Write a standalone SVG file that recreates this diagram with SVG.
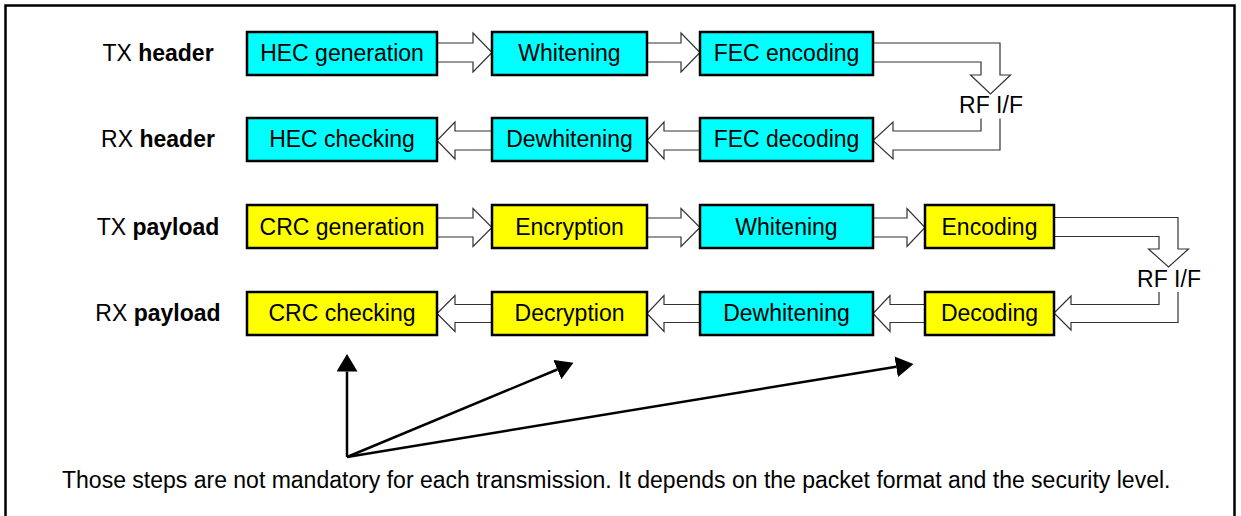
<svg xmlns="http://www.w3.org/2000/svg" width="1241" height="516" viewBox="0 0 1241 516">
<style>
text{font-family:"Liberation Sans",Arial,sans-serif;font-size:23px;fill:#000}
.b{font-weight:bold}
.c{text-anchor:middle}
.box{stroke:#000;stroke-width:2.5}
.cy{fill:#00FFFF}
.ye{fill:#FFFF00}
.ba{fill:#fff;stroke:#333;stroke-width:1.2;stroke-linejoin:miter}
.pt{stroke:#000;stroke-width:2.5;fill:none}
</style>
<defs>
<marker id="ah" markerUnits="userSpaceOnUse" markerWidth="18" markerHeight="21" refX="0" refY="10.5" orient="auto" viewBox="0 0 18 21">
<path d="M0,0 L17.5,10.5 L0,21 Z" fill="#000"/>
</marker>
</defs>
<rect x="5.5" y="5.5" width="1229" height="530" fill="#fff" stroke="#000" stroke-width="2.5"/>

<g id="labels">
<text x="158" y="60.5" class="c">TX <tspan class="b">header</tspan></text>
<text x="158" y="147" class="c">RX <tspan class="b">header</tspan></text>
<text x="158" y="234.5" class="c">TX <tspan class="b">payload</tspan></text>
<text x="158" y="320.5" class="c">RX <tspan class="b">payload</tspan></text>
</g>

<g id="connectors">
<!-- row 1 -->
<path class="ba" d="M437,43 H473 V33 L492,52.5 L473,72 V62 H437"/>
<path class="ba" d="M647,43 H681 V33 L700,52.5 L681,72 V62 H647"/>
<path class="ba" d="M873,43 H1000 V75 H1010.5 L990.5,94 L970.5,75 H981 V62 H873"/>
<!-- row 2 -->
<path class="ba" d="M492,131 H455 V122 L437,140.5 L455,159 V150 H492"/>
<path class="ba" d="M700,131 H664 V122 L647,140.5 L664,159 V150 H700"/>
<path class="ba" d="M981,118.5 V131 H893 V122 L873,140.5 L893,159 V150 H1000 V118.5"/>
<!-- row 3 -->
<path class="ba" d="M437,218 H473 V208.5 L492,227.5 L473,246.5 V237 H437"/>
<path class="ba" d="M647,218 H681 V208.5 L700,227.5 L681,246.5 V237 H647"/>
<path class="ba" d="M873,218 H907 V208.5 L925,227.5 L907,246.5 V237 H873"/>
<path class="ba" d="M1054,217.5 H1178 V249 H1188.5 L1168.5,267 L1148.5,249 H1159 V236.5 H1054"/>
<!-- row 4 -->
<path class="ba" d="M492,304.5 H455 V295.5 L437,313.5 L455,331.5 V322.5 H492"/>
<path class="ba" d="M700,304.5 H664 V295.5 L647,313.5 L664,331.5 V322.5 H700"/>
<path class="ba" d="M925,304.5 H890 V295.5 L873,313.5 L890,331.5 V322.5 H925"/>
<path class="ba" d="M1159,292 V304.5 H1071 V296 L1054,313 L1071,330 V322.5 H1178 V292"/>
<!-- pointer arrows -->
<line class="pt" x1="347" y1="457" x2="347" y2="371.5" marker-end="url(#ah)"/>
<line class="pt" x1="347" y1="457" x2="557.3" y2="369.5" marker-end="url(#ah)"/>
<line class="pt" x1="347" y1="457" x2="896.2" y2="366.8" marker-end="url(#ah)"/>
</g>

<g id="rfif1"><text x="991" y="113" class="c">RF I/F</text></g>
<g id="rfif2"><text x="1169" y="287" class="c">RF I/F</text></g>

<g id="hec-gen"><rect class="box cy" x="247" y="32" width="190" height="43"/><text x="342" y="60.5" class="c">HEC generation</text></g>
<g id="whitening-h"><rect class="box cy" x="492" y="32" width="155" height="43"/><text x="569.5" y="60.5" class="c">Whitening</text></g>
<g id="fec-enc"><rect class="box cy" x="700" y="32" width="173" height="43"/><text x="786.5" y="60.5" class="c">FEC encoding</text></g>

<g id="hec-chk"><rect class="box cy" x="247" y="118" width="190" height="43"/><text x="342" y="147" class="c">HEC checking</text></g>
<g id="dewhitening-h"><rect class="box cy" x="492" y="118" width="155" height="43"/><text x="569.5" y="147" class="c">Dewhitening</text></g>
<g id="fec-dec"><rect class="box cy" x="700" y="118" width="173" height="43"/><text x="786.5" y="147" class="c">FEC decoding</text></g>

<g id="crc-gen"><rect class="box ye" x="247" y="205" width="190" height="43"/><text x="342" y="234.5" class="c">CRC generation</text></g>
<g id="encryption"><rect class="box ye" x="492" y="205" width="155" height="43"/><text x="569.5" y="234.5" class="c">Encryption</text></g>
<g id="whitening-p"><rect class="box cy" x="700" y="205" width="173" height="43"/><text x="786.5" y="234.5" class="c">Whitening</text></g>
<g id="encoding"><rect class="box ye" x="925" y="205" width="129" height="43"/><text x="989.5" y="234.5" class="c">Encoding</text></g>

<g id="crc-chk"><rect class="box ye" x="247" y="292" width="190" height="43"/><text x="342" y="320.5" class="c">CRC checking</text></g>
<g id="decryption"><rect class="box ye" x="492" y="292" width="155" height="43"/><text x="569.5" y="320.5" class="c">Decryption</text></g>
<g id="dewhitening-p"><rect class="box cy" x="700" y="292" width="173" height="43"/><text x="786.5" y="320.5" class="c">Dewhitening</text></g>
<g id="decoding"><rect class="box ye" x="925" y="292" width="129" height="43"/><text x="989.5" y="320.5" class="c">Decoding</text></g>

<g id="note"><text x="62" y="488">Those steps are not mandatory for each transmission. It depends on the packet format and the security level.</text></g>
</svg>
